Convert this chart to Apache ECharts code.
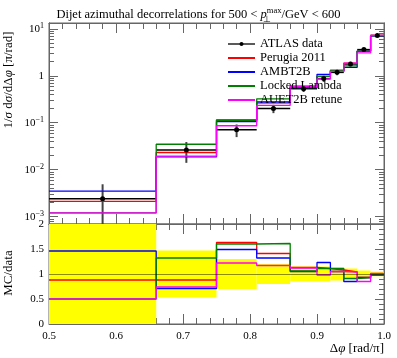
<!DOCTYPE html>
<html><head><meta charset="utf-8">
<script src="https://cdn.jsdelivr.net/npm/echarts@6/dist/echarts.min.js"></script>
<style>html,body{margin:0;padding:0;background:#fff}#c{width:397px;height:358px}</style>
</head><body><div id="c"></div>
<script>
// ---- data ----
const binEdges = [0.5, 0.66, 0.75, 0.81, 0.86, 0.90, 0.92, 0.94, 0.96, 0.98, 1.0];
const binCenters = [0.58, 0.705, 0.78, 0.835, 0.88, 0.91, 0.93, 0.95, 0.97, 0.99];
const dataValues = [0.0024, 0.0264, 0.0706, 0.20, 0.53, 0.87, 1.18, 1.78, 3.6, 7.2];
const dataRelErr = [1.04, 0.47, 0.30, 0.20, 0.15, 0.15, 0.13, 0.11, 0.07, 0.045];
const ratioPerugia = [0.88, 0.88, 1.63, 1.41, 1.13, 1.11, 1.08, 1.04, 0.93, 1.00];
const ratioAMBT2B  = [1.46, 0.71, 1.49, 1.32, 1.05, 1.23, 1.05, 0.85, 0.93, 0.98];
const ratioLocked  = [0.50, 1.32, 1.60, 1.61, 1.06, 1.11, 1.11, 0.91, 0.93, 0.99];
const ratioAUET2B  = [0.50, 0.74, 1.22, 1.17, 1.12, 0.98, 1.05, 1.04, 0.85, 1.01];
const seriesNames = ['Perugia 2011', 'AMBT2B', 'Locked Lambda', 'AUET2B retune'];
const seriesColors = ['#ff0000', '#0000ff', '#008000', '#ff00ff'];
const xTickLabels = [0.5, 0.6, 0.7, 0.8, 0.9, 1.0];
const yDecades = [-3, -2, -1, 0, 1];
const ratioTickLabels = [0, 0.5, 1, 1.5, 2];

const FONT = 'Liberation Serif';
const FRAME = '#666';
const yMinLog = -3.156, yMaxLog = 1.123;

const ratios = [ratioPerugia, ratioAMBT2B, ratioLocked, ratioAUET2B];
const lg = v => Math.log10(v);
function stepData(vals) {
  const d = vals.map((v, i) => [binEdges[i], v]);
  d.push([binEdges[binEdges.length - 1], vals[vals.length - 1]]);
  return d;
}
const minorLog = [];
for (let k = -4; k <= 1; k++) for (let m = 2; m <= 9; m++) {
  const v = Math.log10(m) + k;
  if (v > yMinLog && v < yMaxLog) minorLog.push(v);
}

const chart = echarts.init(document.getElementById('c'));

function buildOption(level) {
  const axLine = () => ({show: true, onZero: false, lineStyle: {color: FRAME, width: 1}});
  function xAx(grid, pos, labels) {
    return {
      type: 'value', gridIndex: grid, position: pos, min: 0.5, max: 1.0, interval: 0.1,
      axisLine: axLine(), splitLine: {show: false},
      axisTick: {show: true, inside: true, length: 10, lineStyle: {color: FRAME}},
      minorTick: {show: true, splitNumber: 5, length: 6, lineStyle: {color: FRAME}},
      axisLabel: labels ? {show: true, margin: 7, color: '#000', fontFamily: FONT, fontSize: 11,
        formatter: v => v.toFixed(1), customValues: xTickLabels} : {show: false}
    };
  }
  function yLogMajor(pos, labels) {
    return {
      type: 'value', gridIndex: 0, position: pos, min: yMinLog, max: yMaxLog,
      axisLine: axLine(), splitLine: {show: false},
      axisTick: {show: true, inside: true, length: 9, customValues: yDecades, lineStyle: {color: FRAME}},
      axisLabel: labels ? {show: true, margin: 5, color: '#000', fontFamily: FONT, fontSize: 11,
        customValues: yDecades, lineHeight: 14,
        formatter: v => v === 0 ? '1' : '10{sup|' + (v < 0 ? '\u2212' + (-v) : v) + '}',
        rich: {sup: {fontSize: 8, fontFamily: FONT, color: '#000', verticalAlign: 'top', lineHeight: 14}}
      } : {show: false}
    };
  }
  function yLogMinor(pos) {
    return {
      type: 'value', gridIndex: 0, position: pos, min: yMinLog, max: yMaxLog,
      axisLine: axLine(), splitLine: {show: false},
      axisTick: {show: true, inside: true, length: 5, customValues: minorLog, lineStyle: {color: FRAME}},
      axisLabel: {show: false}
    };
  }
  function yRatio(pos, labels) {
    return {
      type: 'value', gridIndex: 1, position: pos, min: 0, max: 2, interval: 0.5,
      axisLine: axLine(), splitLine: {show: false},
      axisTick: {show: true, inside: true, length: 9, lineStyle: {color: FRAME}},
      minorTick: {show: true, splitNumber: 5, length: 5, lineStyle: {color: FRAME}},
      axisLabel: labels ? {show: true, margin: 5, color: '#000', fontFamily: FONT, fontSize: 11,
        customValues: ratioTickLabels, formatter: v => String(v)} : {show: false}
    };
  }

  const series = [];
  const band = {
    type: 'custom', xAxisIndex: 2, yAxisIndex: 4, silent: true, clip: true,
    data: dataValues.map((v, i) => [binEdges[i], binEdges[i + 1], 1 - dataRelErr[i], 1 + dataRelErr[i]]),
    encode: {x: [0, 1], y: [2, 3]},
    renderItem: function (params, api) {
      const p0 = api.coord([api.value(0), api.value(3)]);
      const p1 = api.coord([api.value(1), api.value(2)]);
      const cs = params.coordSys;
      const r = echarts.graphic.clipRectByRect({x: p0[0], y: p0[1], width: p1[0] - p0[0], height: p1[1] - p0[1]},
        {x: cs.x, y: cs.y, width: cs.width, height: cs.height});
      if (!r) return null;
      return {type: 'rect', shape: r, style: {fill: '#ffff00'}};
    }
  };
  if (level < 3) band.markLine = {silent: true, symbol: 'none', label: {show: false},
      lineStyle: {color: 'rgba(0,0,0,0.45)', width: 1, type: 'solid'}, data: [{yAxis: 1}]};
  series.push(band);
  seriesNames.forEach((name, s) => {
    series.push({
      name: name, type: 'line', step: 'end', xAxisIndex: 0, yAxisIndex: 0, symbol: 'none',
      color: seriesColors[s], lineStyle: {color: seriesColors[s], width: 1.3},
      data: stepData(dataValues.map((v, i) => lg(v * ratios[s][i])))
    });
    series.push({
      name: name, type: 'line', step: 'end', xAxisIndex: 2, yAxisIndex: 4, symbol: 'none',
      color: seriesColors[s], lineStyle: {color: seriesColors[s], width: 1.3},
      data: stepData(ratios[s])
    });
  });
  series.push({
    type: 'custom', xAxisIndex: 0, yAxisIndex: 0, silent: true,
    data: dataValues.map((v, i) => {
      const lo = v * (1 - dataRelErr[i]);
      return [binEdges[i], binEdges[i + 1], binCenters[i], lg(v), lo > 0 ? lg(lo) : yMinLog - 1, lg(v * (1 + dataRelErr[i]))];
    }),
    encode: {x: [0, 1, 2], y: [3]},
    renderItem: function (params, api) {
      const cs = params.coordSys;
      const y = api.value(3);
      const pL = api.coord([api.value(0), y]);
      const pR = api.coord([api.value(1), y]);
      const pT = api.coord([api.value(2), api.value(5)]);
      const pB = api.coord([api.value(2), api.value(4)]);
      const top = Math.max(pT[1], cs.y), bot = Math.min(pB[1], cs.y + cs.height);
      return {type: 'group', children: [
        {type: 'line', shape: {x1: pT[0], y1: top, x2: pB[0], y2: bot}, style: {stroke: '#444', lineWidth: 2}},
        {type: 'line', shape: {x1: pL[0], y1: pL[1], x2: pR[0], y2: pR[1]}, style: {stroke: '#000', lineWidth: 1.5}}
      ]};
    }
  });
  series.push({
    name: 'ATLAS data', type: 'line', xAxisIndex: 0, yAxisIndex: 0, color: '#000',
    symbol: 'circle', symbolSize: 5, showSymbol: true,
    itemStyle: {color: '#000'}, lineStyle: {width: 0, opacity: 0},
    data: dataValues.map((v, i) => [binCenters[i], lg(v)])
  });

  const titleRich = {
    it: {fontFamily: FONT, fontSize: 12.5, fontStyle: 'italic', color: '#000', lineHeight: 18},
    sub: {fontFamily: FONT, fontSize: 8.5, color: '#000', verticalAlign: 'bottom', lineHeight: 18},
    sup: {fontFamily: FONT, fontSize: 8.5, color: '#000', verticalAlign: 'top', lineHeight: 18},
    n: {fontFamily: FONT, fontSize: 12.5, color: '#000', lineHeight: 18}
  };
  if (level < 1) titleRich.sub.width = 0;

  const option = {
    animation: false,
    title: {
      left: 'center', top: 1,
      text: 'Dijet azimuthal decorrelations for 500 < {it|p}{sub|\u22a5}{sup|max}{n|/GeV < 600}',
      textStyle: {fontFamily: FONT, fontSize: 12.5, fontWeight: 'normal', color: '#000', lineHeight: 18, rich: titleRich}
    },
    grid: [{left: 49, right: 13, top: 23, height: 201, show: true, borderColor: FRAME, borderWidth: 1},
           {left: 49, right: 13, top: 224, height: 100, show: true, borderColor: FRAME, borderWidth: 1}],
    xAxis: [xAx(0, 'bottom', false), xAx(0, 'top', false), xAx(1, 'bottom', true), xAx(1, 'top', false)],
    yAxis: [yLogMajor('left', true), yLogMinor('left'), yLogMajor('right', false), yLogMinor('right'),
            yRatio('left', true), yRatio('right', false)],
    series: series
  };
  if (level < 4) {
    option.legend = {
      orient: 'vertical', left: 222, top: 32, itemWidth: 27, itemHeight: 5, itemGap: 0,
      selectedMode: false,
      textStyle: {fontFamily: FONT, fontSize: 12.5, color: '#000', lineHeight: 14},
      data: [
        {name: 'ATLAS data', itemStyle: {color: '#000'}, lineStyle: {color: '#000', width: 1.3, opacity: 1}},
        {name: 'Perugia 2011', itemStyle: {opacity: 0}}, {name: 'AMBT2B', itemStyle: {opacity: 0}},
        {name: 'Locked Lambda', itemStyle: {opacity: 0}}, {name: 'AUET2B retune', itemStyle: {opacity: 0}}
      ]
    };
  }
  const g = [];
  g.push({type: 'text', x: 9, y: 80, rotation: Math.PI / 2, silent: true,
     style: {text: '1/{i|σ} d{i|σ}/dΔ{i|φ} [π/rad]', fill: '#000', font: '13px ' + FONT,
       align: 'center', verticalAlign: 'middle',
       rich: {i: {fontFamily: FONT, fontSize: 13, fontStyle: 'italic', fill: '#000'}}}});
  g.push({type: 'text', x: 9, y: 273, rotation: Math.PI / 2, silent: true,
     style: {text: 'MC/data', fill: '#000', font: '13px ' + FONT, align: 'center', verticalAlign: 'middle'}});
  g.push({type: 'text', right: 13, top: 342, silent: true,
     style: {text: 'Δ{i|φ} [rad/π]', fill: '#000', font: '13px ' + FONT,
       rich: {i: {fontFamily: FONT, fontSize: 13, fontStyle: 'italic', fill: '#000'}}}});
  option.graphic = g;
  return option;
}

function ticksVisible() {
  try {
    chart.getZr().refreshImmediately();
    const cv = chart.getDom().querySelector('canvas');
    const ctx = cv.getContext('2d');
    const p = chart.convertToPixel({gridIndex: 0}, [0.5, -1]);
    const x = Math.round(p[0]) + 4, y = Math.round(p[1]);
    for (let dy = -1; dy <= 1; dy++) {
      const d = ctx.getImageData(x, y + dy, 1, 1).data;
      if (d[3] > 60 && d[0] < 220) return true;
    }
    return false;
  } catch (e) { return true; }
}

let level = 0;
chart.setOption(buildOption(level), true);
while (!ticksVisible() && level < 4) {
  level++;
  chart.setOption(buildOption(level), true);
}
</script></body></html>
